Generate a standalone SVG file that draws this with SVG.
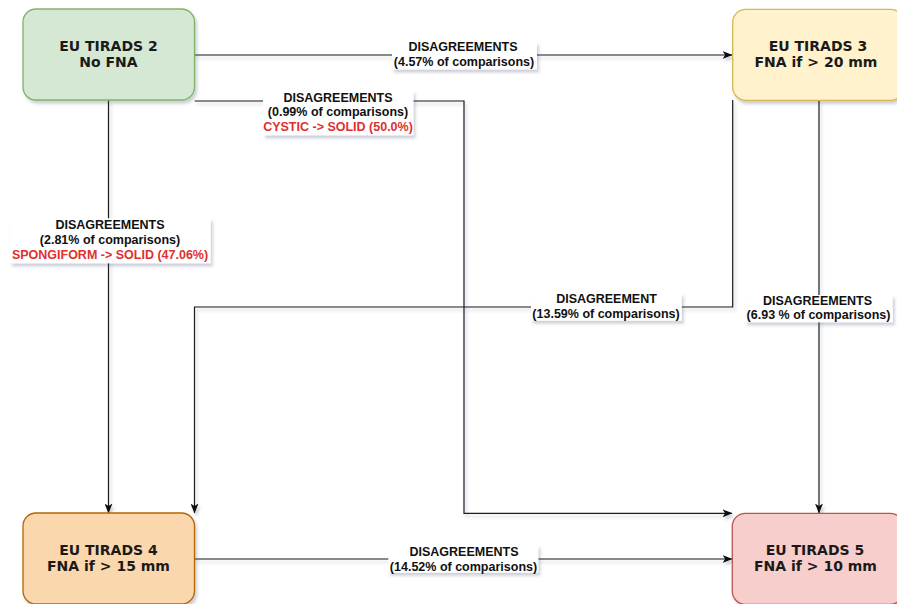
<svg xmlns="http://www.w3.org/2000/svg" width="897" height="604" viewBox="0 0 897 604">
  <defs>
    <!-- one shadow for everything; user-space region so flat lines keep it too -->
    <filter id="shadow" filterUnits="userSpaceOnUse" x="-10" y="-10" width="920" height="630">
      <feDropShadow dx="2" dy="3" stdDeviation="1.6" flood-color="#4a5078" flood-opacity="0.28"/>
    </filter>
    <marker id="arrow" viewBox="0 0 10 8" refX="9.5" refY="4" markerWidth="10" markerHeight="8" markerUnits="userSpaceOnUse" orient="auto">
      <path d="M0,0 L10,4 L0,8 L2.6,4 Z" fill="#111"/>
    </marker>
    <style>
      .node rect { stroke-width: 1.3; filter: url(#shadow); }
      .node text { font-family: "DejaVu Sans", Verdana, sans-serif; font-weight: bold; font-size: 14px; fill: #1a1a1a; text-anchor: middle; }
      .edge { fill: none; stroke: #1a1a1a; stroke-width: 1.2; filter: url(#shadow); }
      .arrow { marker-end: url(#arrow); }
      .lbl rect { fill: #ffffff; stroke: none; filter: url(#shadow); }
      .lbl text { font-family: "Liberation Sans", Arial, sans-serif; font-weight: bold; font-size: 12.5px; fill: #111; text-anchor: middle; }
      .lbl .red { fill: #e0302f; }
    </style>
  </defs>

  <!-- connectors -->
  <g id="connectors">
    <!-- TIRADS 2 -> TIRADS 3 -->
    <path class="edge arrow" d="M194.7,55 H732"/>
    <!-- TIRADS 2 -> TIRADS 5 -->
    <path class="edge arrow" d="M194.7,101 H464 V513.3 H732"/>
    <!-- TIRADS 2 -> TIRADS 4 -->
    <path class="edge arrow" d="M108.5,100 V513"/>
    <!-- TIRADS 3 -> TIRADS 4 -->
    <path class="edge arrow" d="M732.7,100 V307 H194.5 V513"/>
    <!-- TIRADS 3 -> TIRADS 5 -->
    <path class="edge arrow" d="M819,100 V513"/>
    <!-- TIRADS 4 -> TIRADS 5 -->
    <path class="edge arrow" d="M194.7,559 H732"/>

    <!-- edge labels -->
    <g class="lbl" id="label-2-3">
      <rect x="392" y="42" width="145" height="27.5"/>
      <text x="463" y="50.7">DISAGREEMENTS</text>
      <text x="464" y="66">(4.57% of comparisons)</text>
    </g>
    <g class="lbl" id="label-2-5">
      <rect x="263" y="90.7" width="150.5" height="44.6"/>
      <text x="338" y="101.7">DISAGREEMENTS</text>
      <text x="338" y="116.2">(0.99% of comparisons)</text>
      <text x="338" y="130.7" class="red">CYSTIC -&gt; SOLID (50.0%)</text>
    </g>
    <g class="lbl" id="label-2-4">
      <rect x="10" y="218.3" width="200.7" height="45"/>
      <text x="110" y="228.6">DISAGREEMENTS</text>
      <text x="110" y="244">(2.81% of comparisons)</text>
      <text x="110" y="259.3" class="red">SPONGIFORM -&gt; SOLID (47.06%)</text>
    </g>
    <g class="lbl" id="label-3-4">
      <rect x="531" y="293.3" width="150.7" height="27.4"/>
      <text x="606.5" y="303.3">DISAGREEMENT</text>
      <text x="606" y="317.7">(13.59% of comparisons)</text>
    </g>
    <g class="lbl" id="label-3-5">
      <rect x="745" y="295" width="147.7" height="27.3"/>
      <text x="817.5" y="305">DISAGREEMENTS</text>
      <text x="818.5" y="319.3">(6.93 % of comparisons)</text>
    </g>
    <g class="lbl" id="label-4-5">
      <rect x="388.3" y="545" width="150" height="27.7"/>
      <text x="464" y="556">DISAGREEMENTS</text>
      <text x="463.5" y="570.7">(14.52% of comparisons)</text>
    </g>
  </g>

  <!-- nodes -->
  <g class="node" id="tirads2">
    <rect x="23" y="9" width="171.5" height="91" rx="13" fill="#d5e8d4" stroke="#82b366"/>
    <text x="108.5" y="50.7">EU TIRADS 2</text>
    <text x="108.5" y="66.7">No FNA</text>
  </g>
  <g class="node" id="tirads3">
    <rect x="732.7" y="9.3" width="171" height="91" rx="13" fill="#fff2cc" stroke="#d6b656"/>
    <text x="818" y="50.7">EU TIRADS 3</text>
    <text x="816" y="66.7">FNA if &gt; 20 mm</text>
  </g>
  <g class="node" id="tirads4">
    <rect x="23" y="513" width="171.5" height="91" rx="13" fill="#fad7ac" stroke="#b46504"/>
    <text x="108.5" y="555">EU TIRADS 4</text>
    <text x="108.5" y="571">FNA if &gt; 15 mm</text>
  </g>
  <g class="node" id="tirads5">
    <rect x="732.3" y="513.3" width="171" height="91" rx="13" fill="#f8cecc" stroke="#b85450"/>
    <text x="815" y="555">EU TIRADS 5</text>
    <text x="815.5" y="571">FNA if &gt; 10 mm</text>
  </g>
</svg>
